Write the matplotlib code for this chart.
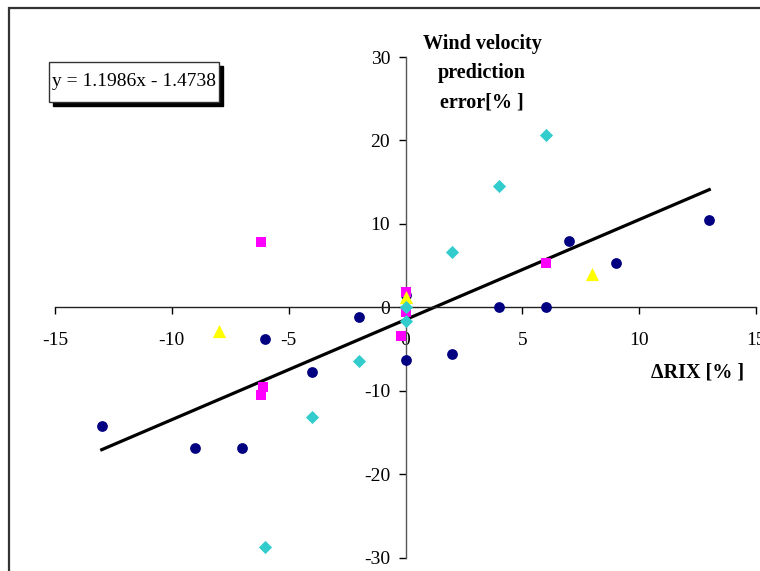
import matplotlib.pyplot as plt
from matplotlib.patches import Rectangle

# data
circle_x = [-13, -9, -7, -6, -4, -2, 0, 0, 2, 4, 6, 7, 9, 13]
circle_y = [-14.2, -16.9, -16.9, -3.8, -7.7, -1.2, -6.3, 1.5, -5.6, 0, 0, 8.0, 5.3, 10.5]

square_x = [-6.2, -6.1, -6.2, 0, 0, -0.2, 6]
square_y = [7.8, -9.6, -10.5, 1.8, -0.5, -3.4, 5.3]

triangle_x = [-8, 0, 8]
triangle_y = [-2.8, 1.3, 4.0]

diamond_x = [-6, -4, -2, 0, 0, 2, 4, 6]
diamond_y = [-28.7, -13.1, -6.4, 0, -1.6, 6.6, 14.6, 20.6]

slope = 1.1986
intercept = -1.4738
fit_x = [-13, 13]

plt.rcParams['font.family'] = ['Liberation Serif', 'DejaVu Serif']
plt.rcParams['axes.unicode_minus'] = False

W, H = 760, 571
fig = plt.figure(figsize=(7.6, 5.71), dpi=100)

# axes placed so that the data range lines up with the reference
ax = fig.add_axes([55 / W, (H - 557.7) / H, 701 / W, 500.7 / H])
ax.set_xlim(-15, 15)
ax.set_ylim(-30, 30)
ax.patch.set_alpha(0)

for s in ['top', 'right']:
    ax.spines[s].set_visible(False)
ax.spines['left'].set_position(('data', 0))
ax.spines['bottom'].set_position(('data', 0))
ax.spines['left'].set_color('#555555')
ax.spines['bottom'].set_color('#222222')
ax.spines['left'].set_linewidth(1.0)
ax.spines['bottom'].set_linewidth(1.0)

ax.set_xticks([-15, -10, -5, 0, 5, 10, 15])
ax.set_yticks([-30, -20, -10, 0, 10, 20, 30])
ax.tick_params(axis='both', direction='out', length=5, width=1,
               labelsize=14, colors='black')
ax.tick_params(axis='x', pad=13)
ax.tick_params(axis='y', pad=6)

fit_y = [slope * v + intercept for v in fit_x]
ax.plot(fit_x, fit_y, color='black', lw=2.3, zorder=2)

ax.scatter(circle_x, circle_y, marker='o', s=60, color='#000080', zorder=3, lw=0)
ax.scatter(square_x, square_y, marker='s', s=55, color='#FF00FF', zorder=4, lw=0)
ax.scatter(triangle_x, triangle_y, marker='^', s=90, color='#FFFF00', zorder=5, lw=0)
ax.scatter(diamond_x, diamond_y, marker='D', s=45, color='#33CCCC', zorder=6, lw=0)

# axis titles
fig.text(482 / W, 1 - 73 / H, 'Wind velocity\nprediction\nerror[% ]', ha='center', va='center',
         fontsize=14.5, fontweight='bold', linespacing=1.6)
fig.text(698 / W, 1 - 373 / H, '\u0394RIX [% ]', ha='center', va='center',
         fontsize=14.5, fontweight='bold')

# equation box with shadow
bx0, by0, bx1, by1 = 49, 62, 219, 102
fig.add_artist(Rectangle(((bx0 + 4) / W, 1 - (by1 + 4) / H), (bx1 - bx0) / W, (by1 - by0) / H,
                         transform=fig.transFigure, facecolor='black', edgecolor='black'))
fig.add_artist(Rectangle((bx0 / W, 1 - by1 / H), (bx1 - bx0) / W, (by1 - by0) / H,
                         transform=fig.transFigure, facecolor='white', edgecolor='#333333', lw=1))
fig.text((bx0 + bx1) / 2 / W, 1 - (by0 + by1) / 2 / H, 'y = 1.1986x - 1.4738',
         ha='center', va='center', fontsize=14)

# chart-area border (runs past the right and bottom edges)
fig.add_artist(Rectangle((9 / W, -0.1), 1.2, 1 - 8 / H + 0.1, transform=fig.transFigure,
                         facecolor='none', edgecolor='#333333', lw=1.6))

fig.savefig('out.png', dpi=100)
